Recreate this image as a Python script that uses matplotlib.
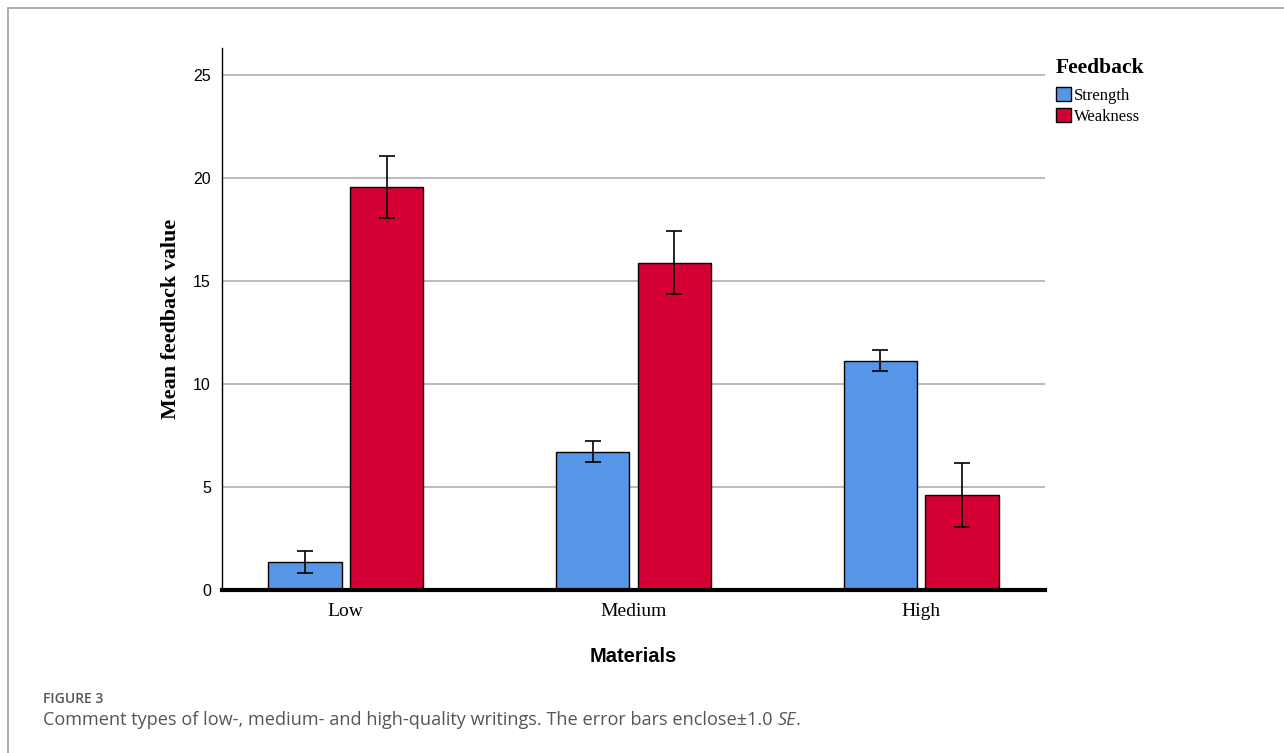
import numpy as np
import matplotlib.pyplot as plt
from matplotlib.patches import Rectangle

# ---------- data ----------
materials = ['Low', 'Medium', 'High']
strength_mean = [1.35, 6.72, 11.12]
strength_se = [0.53, 0.53, 0.51]
weakness_mean = [19.55, 15.87, 4.62]
weakness_se = [1.52, 1.53, 1.54]
feedback_labels = ['Strength', 'Weakness']
y_ticks = [0, 5, 10, 15, 20, 25]

blue = '#5796E6'
red = '#D40033'

W, H = 1284, 753
fig = plt.figure(figsize=(W / 100, H / 100), dpi=100)

# outer frame (page border)
fig.add_artist(Rectangle((8 / W, -0.1), 1.2, 1 - 8 / H + 0.1,
                         transform=fig.transFigure, fill=False,
                         edgecolor='#a0a0a0', lw=1.2))

ax = fig.add_axes([222 / W, 1 - 590 / H, 823 / W, 542 / H])

x = np.arange(len(materials))
off, w = 0.142, 0.255
err_kw = dict(ecolor='black', elinewidth=1.2, capsize=6, capthick=1.2)
ax.bar(x - off, strength_mean, w, yerr=strength_se, color=blue,
       edgecolor='black', linewidth=1, error_kw=err_kw, zorder=3,
       label=feedback_labels[0])
ax.bar(x + off, weakness_mean, w, yerr=weakness_se, color=red,
       edgecolor='black', linewidth=1, error_kw=err_kw, zorder=3,
       label=feedback_labels[1])

ax.set_xlim(-0.43, 2.43)
ax.set_ylim(0, 26.3)
ax.set_yticks(y_ticks)
ax.set_yticklabels([str(t) for t in y_ticks], fontfamily='Liberation Sans', fontsize=11.5)
ax.set_xticks(x)
ax.set_xticklabels(materials, fontfamily='Liberation Serif', fontsize=14)
ax.tick_params(axis='both', length=0)
ax.tick_params(axis='y', pad=8)
ax.tick_params(axis='x', pad=9)

for t in y_ticks[1:]:
    ax.axhline(t, color='#a8a8a8', lw=1.1, zorder=1)

for s in ['top', 'right']:
    ax.spines[s].set_visible(False)
ax.spines['left'].set_linewidth(1)
ax.spines['bottom'].set_linewidth(3)
ax.spines['bottom'].set_zorder(4)

ax.set_ylabel('Mean feedback value', fontfamily='Liberation Serif',
              fontweight='bold', fontsize=15.8, labelpad=9)
ax.set_xlabel('Materials', fontfamily='Liberation Sans', fontweight='bold',
              fontsize=14.5, labelpad=20)

# legend
fig.text(1056 / W, 1 - 68 / H, 'Feedback', fontfamily='Liberation Serif',
         fontweight='bold', fontsize=15.5, va='center', ha='left')
ax.legend(loc='upper left', bbox_to_anchor=(1053 / W, 1 - 84 / H),
          bbox_transform=fig.transFigure, frameon=False,
          prop={'family': 'Liberation Serif', 'size': 12},
          handlelength=0.9, handleheight=0.9, handletextpad=0.15,
          labelspacing=0.25, borderpad=0.2, borderaxespad=0)

# caption
fig.text(43 / W, 1 - 699 / H, 'FIGURE 3', fontfamily='Open Sans',
         fontweight='semibold', fontsize=10, color='#555555', va='center')
cap = fig.text(43 / W, 1 - 720 / H,
               'Comment types of low-, medium- and high-quality writings. The error bars enclose\u00b11.0 ',
               fontfamily='Open Sans', fontsize=13.1, color='#555555', va='center')
fig.canvas.draw()
bb = cap.get_window_extent()
se = fig.text(bb.x1 / W, 1 - 720 / H, 'SE', fontfamily='Open Sans', style='italic',
              fontsize=13.1, color='#555555', va='center')
fig.canvas.draw()
bb2 = se.get_window_extent()
fig.text(bb2.x1 / W, 1 - 720 / H, '.', fontfamily='Open Sans',
         fontsize=13.1, color='#555555', va='center')

fig.savefig('out.png', dpi=100)
